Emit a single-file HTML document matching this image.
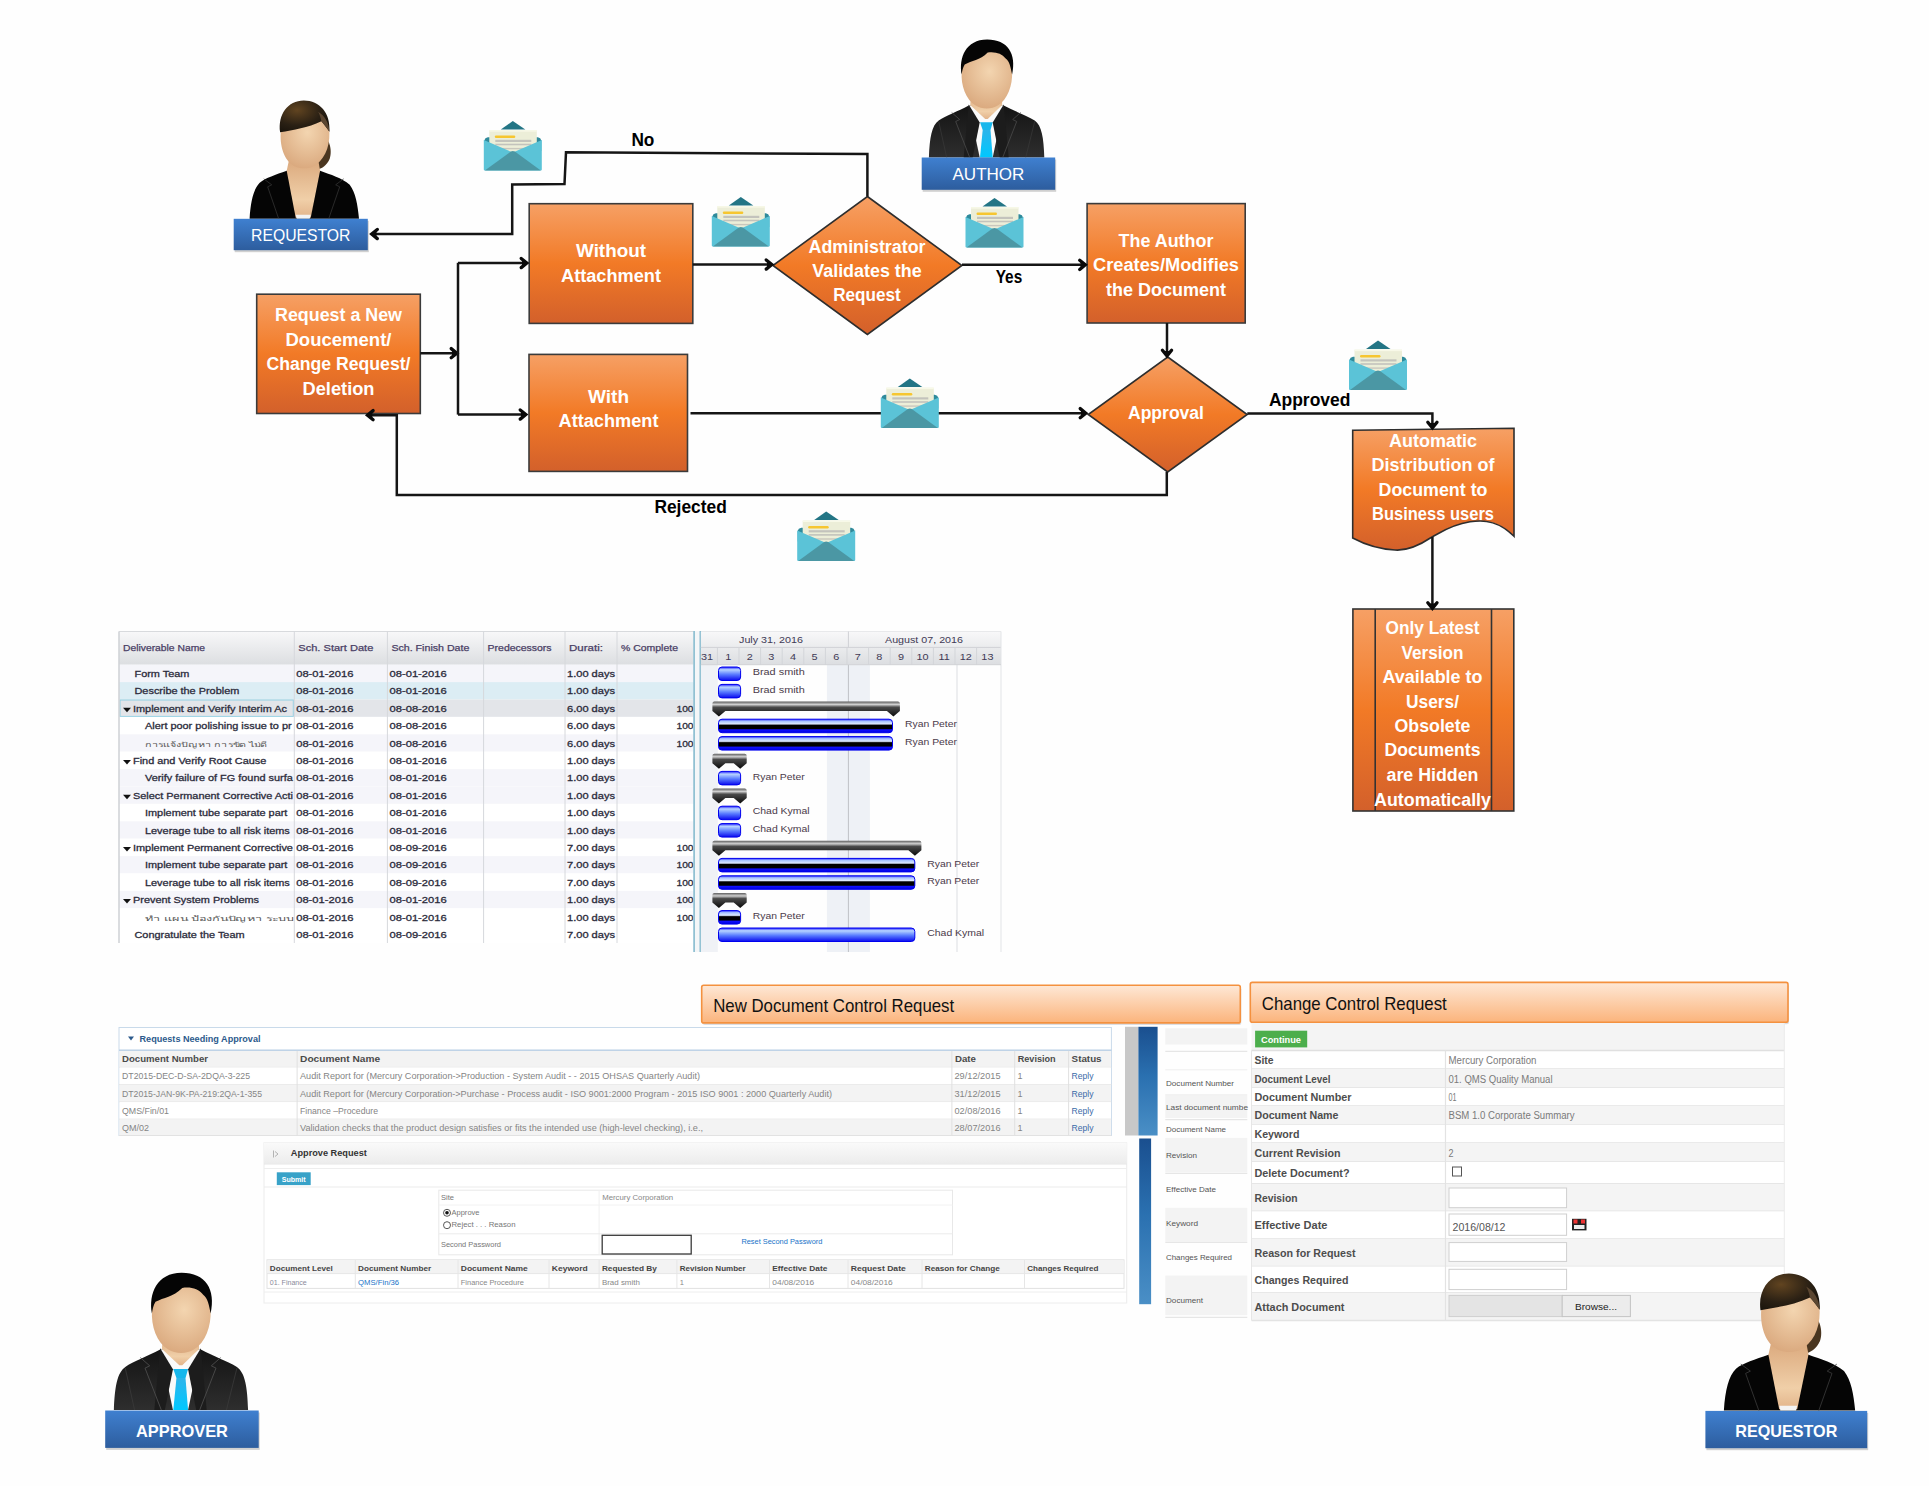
<!DOCTYPE html><html><head><meta charset="utf-8"><style>html,body{margin:0;padding:0;background:#fff;overflow:hidden}svg{display:block}text{font-family:"Liberation Sans",sans-serif}</style></head><body>
<svg width="1929" height="1486" viewBox="0 0 1929 1486">

<defs>
 <linearGradient id="og" x1="0" y1="0" x2="0" y2="1">
  <stop offset="0" stop-color="#f6a065"/>
  <stop offset="0.5" stop-color="#f27a26"/>
  <stop offset="1" stop-color="#d3602b"/>
 </linearGradient>
 <linearGradient id="bg" x1="0" y1="0" x2="0" y2="1">
  <stop offset="0" stop-color="#3f80d0"/>
  <stop offset="1" stop-color="#2d5d9e"/>
 </linearGradient>
 <linearGradient id="hdrg" x1="0" y1="0" x2="0" y2="1">
  <stop offset="0" stop-color="#fee8d6"/>
  <stop offset="1" stop-color="#fbb47c"/>
 </linearGradient>
 <linearGradient id="gh" x1="0" y1="0" x2="0" y2="1">
  <stop offset="0" stop-color="#f8f8f9"/>
  <stop offset="1" stop-color="#dcdee1"/>
 </linearGradient>
 <linearGradient id="ph" x1="0" y1="0" x2="0" y2="1">
  <stop offset="0" stop-color="#fafafa"/>
  <stop offset="1" stop-color="#ececec"/>
 </linearGradient>
 <linearGradient id="bbar" x1="0" y1="0" x2="0" y2="1">
  <stop offset="0" stop-color="#1a4f8f"/>
  <stop offset="0.45" stop-color="#2a70b0"/>
  <stop offset="1" stop-color="#4a8fc6"/>
 </linearGradient>
 <linearGradient id="taskg" x1="0" y1="0" x2="0" y2="1">
  <stop offset="0" stop-color="#2020ff"/>
  <stop offset="0.2" stop-color="#b8d4ff"/>
  <stop offset="0.55" stop-color="#5a7cff"/>
  <stop offset="1" stop-color="#0a0aee"/>
 </linearGradient>
 <linearGradient id="doneg" x1="0" y1="0" x2="0" y2="1">
  <stop offset="0" stop-color="#3030ff"/>
  <stop offset="0.15" stop-color="#a8c4ff"/>
  <stop offset="0.35" stop-color="#dde9ff"/>
  <stop offset="0.45" stop-color="#000000"/>
  <stop offset="0.7" stop-color="#000000"/>
  <stop offset="0.78" stop-color="#1010ff"/>
  <stop offset="1" stop-color="#0000dd"/>
 </linearGradient>
 <linearGradient id="sumg" x1="0" y1="0" x2="0" y2="1">
  <stop offset="0" stop-color="#5a5a5a"/>
  <stop offset="0.2" stop-color="#cfcfcf"/>
  <stop offset="0.38" stop-color="#4a4a4a"/>
  <stop offset="1" stop-color="#0a0a0a"/>
 </linearGradient>
 <radialGradient id="skin" cx="0.55" cy="0.35" r="0.7">
  <stop offset="0" stop-color="#f3d5b0"/>
  <stop offset="1" stop-color="#d9a77c"/>
 </radialGradient>
 <linearGradient id="neck" x1="0" y1="0" x2="0" y2="1">
  <stop offset="0" stop-color="#d9a67a"/>
  <stop offset="0.7" stop-color="#f0cfa8"/>
  <stop offset="1" stop-color="#e2b48a"/>
 </linearGradient>
 <linearGradient id="suit" x1="0" y1="0" x2="0" y2="1">
  <stop offset="0" stop-color="#141414"/>
  <stop offset="1" stop-color="#2e2e2e"/>
 </linearGradient>
 <radialGradient id="hairw" cx="0.35" cy="0.3" r="0.8">
  <stop offset="0" stop-color="#614420"/>
  <stop offset="0.6" stop-color="#2a2014"/>
  <stop offset="1" stop-color="#17120b"/>
 </radialGradient>
 <linearGradient id="tie" x1="0" y1="0" x2="0" y2="1">
  <stop offset="0" stop-color="#2eb4ea"/>
  <stop offset="1" stop-color="#00c8ff"/>
 </linearGradient>

 <symbol id="env" viewBox="0 0 58 50" overflow="visible">
  <path d="M17 8.6 L29 0 L41.5 8.6 Z" fill="#237585"/>
  <path d="M0.5 19.5 Q1 16.8 4 16.3 L54 16.3 Q57 16.8 57.5 19.5 L57.5 30 L0.5 30 Z" fill="#2f8a9b"/>
  <rect x="5.5" y="9.2" width="47.5" height="24" fill="#eceed8"/>
  <rect x="5.5" y="9.2" width="47.5" height="1.4" fill="#f8f9e8"/>
  <rect x="11" y="14.6" width="20.5" height="2.4" rx="1.2" fill="#f6c630"/>
  <rect x="11.5" y="18.8" width="36" height="2.2" fill="#c3c3bc"/>
  <rect x="11.5" y="22.7" width="36" height="1.6" fill="#c3c3bc"/>
  <rect x="11.5" y="26.9" width="36" height="1.4" fill="#c9c7bd"/>
  <path d="M0 19 L29 31.5 L58 19 L58 48.5 Q58 49.5 57 49.5 L1 49.5 Q0 49.5 0 48.5 Z" fill="#5bc3d7"/>
  <path d="M1 49.5 L27 30.6 Q29 29.4 31 30.6 L57 49.5 Z" fill="#4b97a4"/>
 </symbol>

 <symbol id="man" viewBox="0 -120 130 120" overflow="visible">
  <path d="M7.2 0 C8 -20 10 -32 17 -37 C24 -42 36 -46 47 -52 L82 -52 C93 -46 105 -42 113 -37 C120 -32 122 -20 122.6 0 Z" fill="url(#suit)"/>
  <path d="M47 -52 L82 -52 L71 0 L58 0 Z" fill="#fafafa"/>
  <path d="M49.5 -64 L80 -64 L80.5 -52.5 L66 -38.5 L63.5 -38.5 L48.5 -52.5 Z" fill="url(#neck)"/>
  <path d="M47 -53 L58 -35 L51 0 L42 0 Z" fill="#1c1c1c"/>
  <path d="M82 -53 L71 -35 L78 0 L87 0 Z" fill="#1c1c1c"/>
  <path d="M58.3 -35.3 L71 -35.3 L68.8 -27.6 L61 -27.6 Z" fill="#17b7ec"/>
  <path d="M61 -27.6 L68.8 -27.6 L71 0 L58.3 0 Z" fill="url(#tie)"/>
  <path d="M30 -45 L38 -38 L34 -36 L48 0" fill="none" stroke="#4a4a4a" stroke-width="0.8"/>
  <path d="M99 -45 L91 -38 L95 -36 L81 0" fill="none" stroke="#4a4a4a" stroke-width="0.8"/>
  <path d="M17 -36 L25 0 M113 -36 L104 0" fill="none" stroke="#3a3a3a" stroke-width="0.7"/>
  <path d="M40 -86 C39 -72 44 -58 54 -52 C60 -48 70 -48 76 -52 C86 -58 91 -72 90.4 -86 C90 -100 82 -106 66 -106 C50 -106 41 -100 40 -86 Z" fill="url(#skin)"/>
  <path d="M39.9 -83 C37 -100 44 -118 65.5 -118.1 C86 -118 95 -104 90.4 -83 C89 -90 88 -96 84 -99 C80 -104 74 -106 66 -105 C58 -97 50 -97 43 -93 C41 -90 40.5 -86 39.9 -83 Z" fill="#050505"/>
 </symbol>

 <symbol id="woman" viewBox="0 -120 140 120" overflow="visible">
  <path d="M86 -84 C96 -83 99 -68 96 -60 C93 -53 88 -50 83 -49 C85 -58 86 -72 86 -84 Z" fill="#4a3620"/>
  <path d="M15.9 0 C17 -18 20 -30 26 -36 C32 -41 42 -44 53 -48 L86.4 -48 C97 -44 108 -41 116 -34 C122 -26 124 -14 125.3 0 Z" fill="#050505"/>
  <path d="M56 -62 L84 -62 L86.4 -48 L77 -1 L62 -1 L53 -48 Z" fill="url(#neck)"/>
  <path d="M62 -4 L77 -4 L76 0 L63 0 Z" fill="#f4f4f4"/>
  <path d="M30 -40 L38 -34 L34 -32 L45 0 M110 -40 L102 -34 L106 -32 L95 0" fill="none" stroke="#3a3a3a" stroke-width="0.7"/>
  <path d="M47 -86 C46 -70 52 -56 62 -52 C67 -50 74 -50 79 -52 C90 -58 96 -70 95.7 -86 C95 -100 88 -106 71 -106 C54 -106 47 -100 47 -86 Z" fill="url(#skin)"/>
  <path d="M46.4 -86.5 C44 -104 54 -118.2 70.1 -118.2 C86 -118 97 -106 95.7 -87 C93 -91 90 -95 87.7 -97.6 C74 -91 60 -89 46.4 -86.5 Z" fill="url(#hairw)"/>
  <path d="M84.5 -107 C91 -103 95.5 -96 95.7 -87 C93 -91 90 -95 87.7 -97.6 C87 -101 86 -104 84.5 -107 Z" fill="#5b4631"/>
 </symbol>
</defs>

<rect x="0" y="0" width="1929" height="1486" fill="#fefefe"/>
<rect x="256.7" y="294.2" width="163.60000000000002" height="119.30000000000001" fill="url(#og)" stroke="#3b3b3b" stroke-width="1.6"/>
<text x="338.5" y="320.5" font-size="18" fill="#ffffff" font-weight="bold" text-anchor="middle" textLength="127" lengthAdjust="spacingAndGlyphs">Request a New</text>
<text x="338.5" y="345.5" font-size="18" fill="#ffffff" font-weight="bold" text-anchor="middle" textLength="106" lengthAdjust="spacingAndGlyphs">Doucement/</text>
<text x="338.5" y="370" font-size="18" fill="#ffffff" font-weight="bold" text-anchor="middle" textLength="144" lengthAdjust="spacingAndGlyphs">Change Request/</text>
<text x="338.5" y="394.5" font-size="18" fill="#ffffff" font-weight="bold" text-anchor="middle" textLength="72" lengthAdjust="spacingAndGlyphs">Deletion</text>
<rect x="529.2" y="203.7" width="163.5999999999999" height="119.69999999999999" fill="url(#og)" stroke="#3b3b3b" stroke-width="1.6"/>
<text x="611" y="256.5" font-size="18" fill="#ffffff" font-weight="bold" text-anchor="middle" textLength="70" lengthAdjust="spacingAndGlyphs">Without</text>
<text x="611" y="281.7" font-size="18" fill="#ffffff" font-weight="bold" text-anchor="middle" textLength="100" lengthAdjust="spacingAndGlyphs">Attachment</text>
<rect x="529" y="354.4" width="158.5" height="117.0" fill="url(#og)" stroke="#3b3b3b" stroke-width="1.6"/>
<text x="608.5" y="402.5" font-size="18" fill="#ffffff" font-weight="bold" text-anchor="middle" textLength="41" lengthAdjust="spacingAndGlyphs">With</text>
<text x="608.5" y="427.2" font-size="18" fill="#ffffff" font-weight="bold" text-anchor="middle" textLength="100" lengthAdjust="spacingAndGlyphs">Attachment</text>
<rect x="1087.1" y="203.6" width="158.10000000000014" height="119.4" fill="url(#og)" stroke="#3b3b3b" stroke-width="1.6"/>
<text x="1166" y="246.7" font-size="18" fill="#ffffff" font-weight="bold" text-anchor="middle" textLength="95" lengthAdjust="spacingAndGlyphs">The Author</text>
<text x="1166" y="271.3" font-size="18" fill="#ffffff" font-weight="bold" text-anchor="middle" textLength="146" lengthAdjust="spacingAndGlyphs">Creates/Modifies</text>
<text x="1166" y="296.4" font-size="18" fill="#ffffff" font-weight="bold" text-anchor="middle" textLength="120" lengthAdjust="spacingAndGlyphs">the Document</text>
<path d="M867.4 196.5 L961.9 265.5 L867.4 334.5 L772.9 265.5 Z" fill="url(#og)" stroke="#2e2e2e" stroke-width="1.6"/>
<text x="867" y="253" font-size="18" fill="#ffffff" font-weight="bold" text-anchor="middle" textLength="117" lengthAdjust="spacingAndGlyphs">Administrator</text>
<text x="867" y="277.2" font-size="18" fill="#ffffff" font-weight="bold" text-anchor="middle" textLength="109.5" lengthAdjust="spacingAndGlyphs">Validates the</text>
<text x="867" y="301" font-size="18" fill="#ffffff" font-weight="bold" text-anchor="middle" textLength="67.5" lengthAdjust="spacingAndGlyphs">Request</text>
<path d="M1167.7 357.0 L1247.2 414.5 L1167.7 472.0 L1088.2 414.5 Z" fill="url(#og)" stroke="#2e2e2e" stroke-width="1.6"/>
<text x="1166" y="419.4" font-size="18" fill="#ffffff" font-weight="bold" text-anchor="middle" textLength="76" lengthAdjust="spacingAndGlyphs">Approval</text>
<path d="M1352.7 430.3 L1514 428.3 L1514 536.3 C1500 522 1486 519 1470 521.8 C1450 525 1440 533 1432 537 C1420 545 1408 551 1395 550 C1378 549 1362 543 1352.7 538 Z" fill="url(#og)" stroke="#2e2e2e" stroke-width="1.6"/>
<text x="1433" y="446.7" font-size="18" fill="#ffffff" font-weight="bold" text-anchor="middle" textLength="88" lengthAdjust="spacingAndGlyphs">Automatic</text>
<text x="1433" y="471.3" font-size="18" fill="#ffffff" font-weight="bold" text-anchor="middle" textLength="123" lengthAdjust="spacingAndGlyphs">Distribution of</text>
<text x="1433" y="495.6" font-size="18" fill="#ffffff" font-weight="bold" text-anchor="middle" textLength="109" lengthAdjust="spacingAndGlyphs">Document to</text>
<text x="1433" y="519.8" font-size="18" fill="#ffffff" font-weight="bold" text-anchor="middle" textLength="122" lengthAdjust="spacingAndGlyphs">Business users</text>
<rect x="1352.9" y="609" width="160.9" height="202" fill="url(#og)" stroke="#333" stroke-width="1.6"/>
<line x1="1375.2" y1="609" x2="1375.2" y2="811" stroke="#333" stroke-width="1.6"/>
<line x1="1491.5" y1="609" x2="1491.5" y2="811" stroke="#333" stroke-width="1.6"/>
<text x="1432.5" y="634" font-size="18" fill="#ffffff" font-weight="bold" text-anchor="middle" textLength="94" lengthAdjust="spacingAndGlyphs">Only Latest</text>
<text x="1432.5" y="659" font-size="18" fill="#ffffff" font-weight="bold" text-anchor="middle" textLength="62" lengthAdjust="spacingAndGlyphs">Version</text>
<text x="1432.5" y="682.9" font-size="18" fill="#ffffff" font-weight="bold" text-anchor="middle" textLength="100" lengthAdjust="spacingAndGlyphs">Available to</text>
<text x="1432.5" y="708" font-size="18" fill="#ffffff" font-weight="bold" text-anchor="middle" textLength="53" lengthAdjust="spacingAndGlyphs">Users/</text>
<text x="1432.5" y="732.2" font-size="18" fill="#ffffff" font-weight="bold" text-anchor="middle" textLength="76" lengthAdjust="spacingAndGlyphs">Obsolete</text>
<text x="1432.5" y="756.4" font-size="18" fill="#ffffff" font-weight="bold" text-anchor="middle" textLength="96" lengthAdjust="spacingAndGlyphs">Documents</text>
<text x="1432.5" y="781.4" font-size="18" fill="#ffffff" font-weight="bold" text-anchor="middle" textLength="92" lengthAdjust="spacingAndGlyphs">are Hidden</text>
<text x="1432.5" y="805.7" font-size="18" fill="#ffffff" font-weight="bold" text-anchor="middle" textLength="117" lengthAdjust="spacingAndGlyphs">Automatically</text>
<path d="M420.3 353.2 L455 353.2" fill="none" stroke="#151515" stroke-width="2.5" stroke-linejoin="miter"/>
<path d="M451.2 348.59999999999997 L456.8 353.2 L451.2 357.8" fill="none" stroke="#0a0a0a" stroke-width="3.3" stroke-linejoin="miter" stroke-linecap="round"/>
<path d="M458 353.2 L452 350.2 L452 356.2 Z" fill="#0a0a0a"/>
<path d="M458 262.8 L458 414.6" fill="none" stroke="#151515" stroke-width="2.5" stroke-linejoin="miter"/>
<path d="M458 263 L524 263" fill="none" stroke="#151515" stroke-width="2.5" stroke-linejoin="miter"/>
<path d="M521.2 258.4 L526.8 263 L521.2 267.6" fill="none" stroke="#0a0a0a" stroke-width="3.3" stroke-linejoin="miter" stroke-linecap="round"/>
<path d="M528 263 L522 260 L522 266 Z" fill="#0a0a0a"/>
<path d="M458 414.5 L522 414.5" fill="none" stroke="#151515" stroke-width="2.5" stroke-linejoin="miter"/>
<path d="M520.2 409.9 L525.8 414.5 L520.2 419.1" fill="none" stroke="#0a0a0a" stroke-width="3.3" stroke-linejoin="miter" stroke-linecap="round"/>
<path d="M527 414.5 L521 411.5 L521 417.5 Z" fill="#0a0a0a"/>
<path d="M692.8 264.4 L768 264.4" fill="none" stroke="#151515" stroke-width="2.5" stroke-linejoin="miter"/>
<path d="M766.2 259.9 L771.8 264.5 L766.2 269.1" fill="none" stroke="#0a0a0a" stroke-width="3.3" stroke-linejoin="miter" stroke-linecap="round"/>
<path d="M773 264.5 L767 261.5 L767 267.5 Z" fill="#0a0a0a"/>
<path d="M867.4 196.5 L867.4 154 L566 152.3 L564.5 184 L512.2 184.5 L512.2 234 L375 234" fill="none" stroke="#151515" stroke-width="2.5" stroke-linejoin="miter"/>
<path d="M377.3 229.4 L371.7 234 L377.3 238.6" fill="none" stroke="#0a0a0a" stroke-width="3.3" stroke-linejoin="miter" stroke-linecap="round"/>
<path d="M370.5 234 L376.5 231 L376.5 237 Z" fill="#0a0a0a"/>
<path d="M962 264.8 L1081 264.8" fill="none" stroke="#151515" stroke-width="2.5" stroke-linejoin="miter"/>
<path d="M1079.7 260.2 L1085.3 264.8 L1079.7 269.40000000000003" fill="none" stroke="#0a0a0a" stroke-width="3.3" stroke-linejoin="miter" stroke-linecap="round"/>
<path d="M1086.5 264.8 L1080.5 261.8 L1080.5 267.8 Z" fill="#0a0a0a"/>
<path d="M1167 323 L1167 352" fill="none" stroke="#151515" stroke-width="2.5" stroke-linejoin="miter"/>
<path d="M1162.4 350.2 L1167 355.8 L1171.6 350.2" fill="none" stroke="#0a0a0a" stroke-width="3.3" stroke-linejoin="miter" stroke-linecap="round"/>
<path d="M1167 357 L1164 351 L1170 351 Z" fill="#0a0a0a"/>
<path d="M690.5 413.2 L1082 413.2" fill="none" stroke="#151515" stroke-width="2.5" stroke-linejoin="miter"/>
<path d="M1080.2 408.59999999999997 L1085.8 413.2 L1080.2 417.8" fill="none" stroke="#0a0a0a" stroke-width="3.3" stroke-linejoin="miter" stroke-linecap="round"/>
<path d="M1087 413.2 L1081 410.2 L1081 416.2 Z" fill="#0a0a0a"/>
<path d="M1166.8 472 L1166.8 495 L396.8 495 L396.8 415.2 L371 415.2" fill="none" stroke="#151515" stroke-width="2.5" stroke-linejoin="miter"/>
<path d="M373.1 410.59999999999997 L367.5 415.2 L373.1 419.8" fill="none" stroke="#0a0a0a" stroke-width="3.3" stroke-linejoin="miter" stroke-linecap="round"/>
<path d="M366.3 415.2 L372.3 412.2 L372.3 418.2 Z" fill="#0a0a0a"/>
<path d="M1247.3 413.4 L1432.4 413.4 L1432.4 424" fill="none" stroke="#151515" stroke-width="2.5" stroke-linejoin="miter"/>
<path d="M1427.8000000000002 422.2 L1432.4 427.8 L1437.0 422.2" fill="none" stroke="#0a0a0a" stroke-width="3.3" stroke-linejoin="miter" stroke-linecap="round"/>
<path d="M1432.4 429 L1429.4 423 L1435.4 423 Z" fill="#0a0a0a"/>
<path d="M1432.4 537 L1432.4 604" fill="none" stroke="#151515" stroke-width="2.5" stroke-linejoin="miter"/>
<path d="M1427.8000000000002 602.7 L1432.4 608.3 L1437.0 602.7" fill="none" stroke="#0a0a0a" stroke-width="3.3" stroke-linejoin="miter" stroke-linecap="round"/>
<path d="M1432.4 609.5 L1429.4 603.5 L1435.4 603.5 Z" fill="#0a0a0a"/>
<text x="631.4" y="146.4" font-size="18" fill="#000" font-weight="bold" textLength="23" lengthAdjust="spacingAndGlyphs">No</text>
<text x="995.7" y="283.4" font-size="18" fill="#000" font-weight="bold" textLength="26.5" lengthAdjust="spacingAndGlyphs">Yes</text>
<text x="654.4" y="512.9" font-size="18" fill="#000" font-weight="bold" textLength="72.5" lengthAdjust="spacingAndGlyphs">Rejected</text>
<text x="1268.9" y="405.7" font-size="18" fill="#000" font-weight="bold" textLength="81.5" lengthAdjust="spacingAndGlyphs">Approved</text>
<use href="#env" x="483.8" y="121" width="58" height="50"/>
<use href="#env" x="711.8" y="197" width="58" height="50"/>
<use href="#env" x="965.5" y="198" width="58" height="50"/>
<use href="#env" x="880.8" y="378.5" width="58" height="50"/>
<use href="#env" x="797.2" y="511.4" width="58" height="50"/>
<use href="#env" x="1349" y="340.5" width="58" height="50"/>
<rect x="119" y="631.5" width="574.7" height="33.200000000000045" fill="url(#gh)"/>
<line x1="119" y1="631.5" x2="1001" y2="631.5" stroke="#d8dadd" stroke-width="1"/>
<text x="123" y="651.4" font-size="9" fill="#4a3f66" textLength="82" lengthAdjust="spacingAndGlyphs" stroke="#4a3f66" stroke-width="0.25">Deliverable Name</text>
<text x="298.3" y="651.4" font-size="9" fill="#4a3f66" textLength="75" lengthAdjust="spacingAndGlyphs" stroke="#4a3f66" stroke-width="0.25">Sch. Start Date</text>
<text x="391.4" y="651.4" font-size="9" fill="#4a3f66" textLength="78" lengthAdjust="spacingAndGlyphs" stroke="#4a3f66" stroke-width="0.25">Sch. Finish Date</text>
<text x="487.6" y="651.4" font-size="9" fill="#4a3f66" textLength="64" lengthAdjust="spacingAndGlyphs" stroke="#4a3f66" stroke-width="0.25">Predecessors</text>
<text x="569" y="651.4" font-size="9" fill="#4a3f66" textLength="34" lengthAdjust="spacingAndGlyphs" stroke="#4a3f66" stroke-width="0.25">Durati:</text>
<text x="621" y="651.4" font-size="9" fill="#4a3f66" textLength="57" lengthAdjust="spacingAndGlyphs" stroke="#4a3f66" stroke-width="0.25">% Complete</text>
<rect x="119" y="664.7" width="574.7" height="17.4" fill="#f5f5fa"/>
<text x="134.5" y="676.9000000000001" font-size="8.6" fill="#2c2c3c" textLength="54.91" lengthAdjust="spacingAndGlyphs" stroke="#2c2c3c" stroke-width="0.28">Form Team</text>
<text x="296.2" y="676.9000000000001" font-size="8.6" fill="#2c2c3c" textLength="57.2" lengthAdjust="spacingAndGlyphs" stroke="#2c2c3c" stroke-width="0.28">08-01-2016</text>
<text x="389.5" y="676.9000000000001" font-size="8.6" fill="#2c2c3c" textLength="57.2" lengthAdjust="spacingAndGlyphs" stroke="#2c2c3c" stroke-width="0.28">08-01-2016</text>
<text x="567" y="676.9000000000001" font-size="8.6" fill="#2c2c3c" textLength="48" lengthAdjust="spacingAndGlyphs" stroke="#2c2c3c" stroke-width="0.28">1.00 days</text>
<rect x="119" y="682.1" width="574.7" height="17.4" fill="#dcedf4"/>
<text x="134.5" y="694.3000000000001" font-size="8.6" fill="#2c2c3c" textLength="104.8" lengthAdjust="spacingAndGlyphs" stroke="#2c2c3c" stroke-width="0.28">Describe the Problem</text>
<text x="296.2" y="694.3000000000001" font-size="8.6" fill="#2c2c3c" textLength="57.2" lengthAdjust="spacingAndGlyphs" stroke="#2c2c3c" stroke-width="0.28">08-01-2016</text>
<text x="389.5" y="694.3000000000001" font-size="8.6" fill="#2c2c3c" textLength="57.2" lengthAdjust="spacingAndGlyphs" stroke="#2c2c3c" stroke-width="0.28">08-01-2016</text>
<text x="567" y="694.3000000000001" font-size="8.6" fill="#2c2c3c" textLength="48" lengthAdjust="spacingAndGlyphs" stroke="#2c2c3c" stroke-width="0.28">1.00 days</text>
<rect x="119" y="699.5" width="574.7" height="17.4" fill="#e3e5e9"/>
<path d="M123 707.7 L131 707.7 L127 712.2 Z" fill="#111"/>
<rect x="120" y="700.0" width="173.3" height="16.4" fill="none" stroke="#8fd0e4" stroke-width="1"/>
<text x="133" y="711.7" font-size="8.6" fill="#2c2c3c" textLength="153.87" lengthAdjust="spacingAndGlyphs" stroke="#2c2c3c" stroke-width="0.28">Implement and Verify Interim Ac</text>
<text x="296.2" y="711.7" font-size="8.6" fill="#2c2c3c" textLength="57.2" lengthAdjust="spacingAndGlyphs" stroke="#2c2c3c" stroke-width="0.28">08-01-2016</text>
<text x="389.5" y="711.7" font-size="8.6" fill="#2c2c3c" textLength="57.2" lengthAdjust="spacingAndGlyphs" stroke="#2c2c3c" stroke-width="0.28">08-08-2016</text>
<text x="567" y="711.7" font-size="8.6" fill="#2c2c3c" textLength="48" lengthAdjust="spacingAndGlyphs" stroke="#2c2c3c" stroke-width="0.28">6.00 days</text>
<text x="693.5" y="711.7" font-size="8.6" fill="#2c2c3c" text-anchor="end" textLength="17" lengthAdjust="spacingAndGlyphs" stroke="#2c2c3c" stroke-width="0.28">100</text>
<rect x="119" y="716.9000000000001" width="574.7" height="17.4" fill="#ffffff"/>
<text x="145" y="729.1000000000001" font-size="8.6" fill="#2c2c3c" textLength="146.61" lengthAdjust="spacingAndGlyphs" stroke="#2c2c3c" stroke-width="0.28">Alert poor polishing issue to pr</text>
<text x="296.2" y="729.1000000000001" font-size="8.6" fill="#2c2c3c" textLength="57.2" lengthAdjust="spacingAndGlyphs" stroke="#2c2c3c" stroke-width="0.28">08-01-2016</text>
<text x="389.5" y="729.1000000000001" font-size="8.6" fill="#2c2c3c" textLength="57.2" lengthAdjust="spacingAndGlyphs" stroke="#2c2c3c" stroke-width="0.28">08-08-2016</text>
<text x="567" y="729.1000000000001" font-size="8.6" fill="#2c2c3c" textLength="48" lengthAdjust="spacingAndGlyphs" stroke="#2c2c3c" stroke-width="0.28">6.00 days</text>
<text x="693.5" y="729.1000000000001" font-size="8.6" fill="#2c2c3c" text-anchor="end" textLength="17" lengthAdjust="spacingAndGlyphs" stroke="#2c2c3c" stroke-width="0.28">100</text>
<rect x="119" y="734.3000000000001" width="574.7" height="17.4" fill="#f5f5fa"/>
<text x="145" y="746.5000000000001" font-size="6.5" fill="#555" textLength="122" lengthAdjust="spacingAndGlyphs">การแจ้งปัญหา การขัด ไม่ดี</text>
<text x="296.2" y="746.5000000000001" font-size="8.6" fill="#2c2c3c" textLength="57.2" lengthAdjust="spacingAndGlyphs" stroke="#2c2c3c" stroke-width="0.28">08-01-2016</text>
<text x="389.5" y="746.5000000000001" font-size="8.6" fill="#2c2c3c" textLength="57.2" lengthAdjust="spacingAndGlyphs" stroke="#2c2c3c" stroke-width="0.28">08-08-2016</text>
<text x="567" y="746.5000000000001" font-size="8.6" fill="#2c2c3c" textLength="48" lengthAdjust="spacingAndGlyphs" stroke="#2c2c3c" stroke-width="0.28">6.00 days</text>
<text x="693.5" y="746.5000000000001" font-size="8.6" fill="#2c2c3c" text-anchor="end" textLength="17" lengthAdjust="spacingAndGlyphs" stroke="#2c2c3c" stroke-width="0.28">100</text>
<rect x="119" y="751.7" width="574.7" height="17.4" fill="#ffffff"/>
<path d="M123 759.9000000000001 L131 759.9000000000001 L127 764.4000000000001 Z" fill="#111"/>
<text x="133" y="763.9000000000001" font-size="8.6" fill="#2c2c3c" textLength="133.29" lengthAdjust="spacingAndGlyphs" stroke="#2c2c3c" stroke-width="0.28">Find and Verify Root Cause</text>
<text x="296.2" y="763.9000000000001" font-size="8.6" fill="#2c2c3c" textLength="57.2" lengthAdjust="spacingAndGlyphs" stroke="#2c2c3c" stroke-width="0.28">08-01-2016</text>
<text x="389.5" y="763.9000000000001" font-size="8.6" fill="#2c2c3c" textLength="57.2" lengthAdjust="spacingAndGlyphs" stroke="#2c2c3c" stroke-width="0.28">08-01-2016</text>
<text x="567" y="763.9000000000001" font-size="8.6" fill="#2c2c3c" textLength="48" lengthAdjust="spacingAndGlyphs" stroke="#2c2c3c" stroke-width="0.28">1.00 days</text>
<rect x="119" y="769.1" width="574.7" height="17.4" fill="#f5f5fa"/>
<text x="145" y="781.3000000000001" font-size="8.6" fill="#2c2c3c" textLength="147.82" lengthAdjust="spacingAndGlyphs" stroke="#2c2c3c" stroke-width="0.28">Verify failure of FG found surfa</text>
<text x="296.2" y="781.3000000000001" font-size="8.6" fill="#2c2c3c" textLength="57.2" lengthAdjust="spacingAndGlyphs" stroke="#2c2c3c" stroke-width="0.28">08-01-2016</text>
<text x="389.5" y="781.3000000000001" font-size="8.6" fill="#2c2c3c" textLength="57.2" lengthAdjust="spacingAndGlyphs" stroke="#2c2c3c" stroke-width="0.28">08-01-2016</text>
<text x="567" y="781.3000000000001" font-size="8.6" fill="#2c2c3c" textLength="48" lengthAdjust="spacingAndGlyphs" stroke="#2c2c3c" stroke-width="0.28">1.00 days</text>
<rect x="119" y="786.5" width="574.7" height="17.4" fill="#f5f5fa"/>
<path d="M123 794.7 L131 794.7 L127 799.2 Z" fill="#111"/>
<text x="133" y="798.7" font-size="8.6" fill="#2c2c3c" textLength="159.93" lengthAdjust="spacingAndGlyphs" stroke="#2c2c3c" stroke-width="0.28">Select Permanent Corrective Acti</text>
<text x="296.2" y="798.7" font-size="8.6" fill="#2c2c3c" textLength="57.2" lengthAdjust="spacingAndGlyphs" stroke="#2c2c3c" stroke-width="0.28">08-01-2016</text>
<text x="389.5" y="798.7" font-size="8.6" fill="#2c2c3c" textLength="57.2" lengthAdjust="spacingAndGlyphs" stroke="#2c2c3c" stroke-width="0.28">08-01-2016</text>
<text x="567" y="798.7" font-size="8.6" fill="#2c2c3c" textLength="48" lengthAdjust="spacingAndGlyphs" stroke="#2c2c3c" stroke-width="0.28">1.00 days</text>
<rect x="119" y="803.9000000000001" width="574.7" height="17.4" fill="#ffffff"/>
<text x="145" y="816.1000000000001" font-size="8.6" fill="#2c2c3c" textLength="142.37" lengthAdjust="spacingAndGlyphs" stroke="#2c2c3c" stroke-width="0.28">Implement tube separate part</text>
<text x="296.2" y="816.1000000000001" font-size="8.6" fill="#2c2c3c" textLength="57.2" lengthAdjust="spacingAndGlyphs" stroke="#2c2c3c" stroke-width="0.28">08-01-2016</text>
<text x="389.5" y="816.1000000000001" font-size="8.6" fill="#2c2c3c" textLength="57.2" lengthAdjust="spacingAndGlyphs" stroke="#2c2c3c" stroke-width="0.28">08-01-2016</text>
<text x="567" y="816.1000000000001" font-size="8.6" fill="#2c2c3c" textLength="48" lengthAdjust="spacingAndGlyphs" stroke="#2c2c3c" stroke-width="0.28">1.00 days</text>
<rect x="119" y="821.3000000000001" width="574.7" height="17.4" fill="#f5f5fa"/>
<text x="145" y="833.5000000000001" font-size="8.6" fill="#2c2c3c" textLength="144.79" lengthAdjust="spacingAndGlyphs" stroke="#2c2c3c" stroke-width="0.28">Leverage tube to all risk items</text>
<text x="296.2" y="833.5000000000001" font-size="8.6" fill="#2c2c3c" textLength="57.2" lengthAdjust="spacingAndGlyphs" stroke="#2c2c3c" stroke-width="0.28">08-01-2016</text>
<text x="389.5" y="833.5000000000001" font-size="8.6" fill="#2c2c3c" textLength="57.2" lengthAdjust="spacingAndGlyphs" stroke="#2c2c3c" stroke-width="0.28">08-01-2016</text>
<text x="567" y="833.5000000000001" font-size="8.6" fill="#2c2c3c" textLength="48" lengthAdjust="spacingAndGlyphs" stroke="#2c2c3c" stroke-width="0.28">1.00 days</text>
<rect x="119" y="838.7" width="574.7" height="17.4" fill="#ffffff"/>
<path d="M123 846.9000000000001 L131 846.9000000000001 L127 851.4000000000001 Z" fill="#111"/>
<text x="133" y="850.9000000000001" font-size="8.6" fill="#2c2c3c" textLength="159.92" lengthAdjust="spacingAndGlyphs" stroke="#2c2c3c" stroke-width="0.28">Implement Permanent Corrective</text>
<text x="296.2" y="850.9000000000001" font-size="8.6" fill="#2c2c3c" textLength="57.2" lengthAdjust="spacingAndGlyphs" stroke="#2c2c3c" stroke-width="0.28">08-01-2016</text>
<text x="389.5" y="850.9000000000001" font-size="8.6" fill="#2c2c3c" textLength="57.2" lengthAdjust="spacingAndGlyphs" stroke="#2c2c3c" stroke-width="0.28">08-09-2016</text>
<text x="567" y="850.9000000000001" font-size="8.6" fill="#2c2c3c" textLength="48" lengthAdjust="spacingAndGlyphs" stroke="#2c2c3c" stroke-width="0.28">7.00 days</text>
<text x="693.5" y="850.9000000000001" font-size="8.6" fill="#2c2c3c" text-anchor="end" textLength="17" lengthAdjust="spacingAndGlyphs" stroke="#2c2c3c" stroke-width="0.28">100</text>
<rect x="119" y="856.1" width="574.7" height="17.4" fill="#f5f5fa"/>
<text x="145" y="868.3000000000001" font-size="8.6" fill="#2c2c3c" textLength="142.37" lengthAdjust="spacingAndGlyphs" stroke="#2c2c3c" stroke-width="0.28">Implement tube separate part</text>
<text x="296.2" y="868.3000000000001" font-size="8.6" fill="#2c2c3c" textLength="57.2" lengthAdjust="spacingAndGlyphs" stroke="#2c2c3c" stroke-width="0.28">08-01-2016</text>
<text x="389.5" y="868.3000000000001" font-size="8.6" fill="#2c2c3c" textLength="57.2" lengthAdjust="spacingAndGlyphs" stroke="#2c2c3c" stroke-width="0.28">08-09-2016</text>
<text x="567" y="868.3000000000001" font-size="8.6" fill="#2c2c3c" textLength="48" lengthAdjust="spacingAndGlyphs" stroke="#2c2c3c" stroke-width="0.28">7.00 days</text>
<text x="693.5" y="868.3000000000001" font-size="8.6" fill="#2c2c3c" text-anchor="end" textLength="17" lengthAdjust="spacingAndGlyphs" stroke="#2c2c3c" stroke-width="0.28">100</text>
<rect x="119" y="873.5" width="574.7" height="17.4" fill="#ffffff"/>
<text x="145" y="885.7" font-size="8.6" fill="#2c2c3c" textLength="144.79" lengthAdjust="spacingAndGlyphs" stroke="#2c2c3c" stroke-width="0.28">Leverage tube to all risk items</text>
<text x="296.2" y="885.7" font-size="8.6" fill="#2c2c3c" textLength="57.2" lengthAdjust="spacingAndGlyphs" stroke="#2c2c3c" stroke-width="0.28">08-01-2016</text>
<text x="389.5" y="885.7" font-size="8.6" fill="#2c2c3c" textLength="57.2" lengthAdjust="spacingAndGlyphs" stroke="#2c2c3c" stroke-width="0.28">08-09-2016</text>
<text x="567" y="885.7" font-size="8.6" fill="#2c2c3c" textLength="48" lengthAdjust="spacingAndGlyphs" stroke="#2c2c3c" stroke-width="0.28">7.00 days</text>
<text x="693.5" y="885.7" font-size="8.6" fill="#2c2c3c" text-anchor="end" textLength="17" lengthAdjust="spacingAndGlyphs" stroke="#2c2c3c" stroke-width="0.28">100</text>
<rect x="119" y="890.9000000000001" width="574.7" height="17.4" fill="#f5f5fa"/>
<path d="M123 899.1000000000001 L131 899.1000000000001 L127 903.6000000000001 Z" fill="#111"/>
<text x="133" y="903.1000000000001" font-size="8.6" fill="#2c2c3c" textLength="125.99" lengthAdjust="spacingAndGlyphs" stroke="#2c2c3c" stroke-width="0.28">Prevent System Problems</text>
<text x="296.2" y="903.1000000000001" font-size="8.6" fill="#2c2c3c" textLength="57.2" lengthAdjust="spacingAndGlyphs" stroke="#2c2c3c" stroke-width="0.28">08-01-2016</text>
<text x="389.5" y="903.1000000000001" font-size="8.6" fill="#2c2c3c" textLength="57.2" lengthAdjust="spacingAndGlyphs" stroke="#2c2c3c" stroke-width="0.28">08-01-2016</text>
<text x="567" y="903.1000000000001" font-size="8.6" fill="#2c2c3c" textLength="48" lengthAdjust="spacingAndGlyphs" stroke="#2c2c3c" stroke-width="0.28">1.00 days</text>
<text x="693.5" y="903.1000000000001" font-size="8.6" fill="#2c2c3c" text-anchor="end" textLength="17" lengthAdjust="spacingAndGlyphs" stroke="#2c2c3c" stroke-width="0.28">100</text>
<rect x="119" y="908.3" width="574.7" height="17.4" fill="#ffffff"/>
<text x="145" y="920.5" font-size="6.5" fill="#555" textLength="148.3" lengthAdjust="spacingAndGlyphs">ทำ แผน ป้องกันปัญหา ระบบ</text>
<text x="296.2" y="920.5" font-size="8.6" fill="#2c2c3c" textLength="57.2" lengthAdjust="spacingAndGlyphs" stroke="#2c2c3c" stroke-width="0.28">08-01-2016</text>
<text x="389.5" y="920.5" font-size="8.6" fill="#2c2c3c" textLength="57.2" lengthAdjust="spacingAndGlyphs" stroke="#2c2c3c" stroke-width="0.28">08-01-2016</text>
<text x="567" y="920.5" font-size="8.6" fill="#2c2c3c" textLength="48" lengthAdjust="spacingAndGlyphs" stroke="#2c2c3c" stroke-width="0.28">1.00 days</text>
<text x="693.5" y="920.5" font-size="8.6" fill="#2c2c3c" text-anchor="end" textLength="17" lengthAdjust="spacingAndGlyphs" stroke="#2c2c3c" stroke-width="0.28">100</text>
<rect x="119" y="925.7" width="574.7" height="17.4" fill="#ffffff"/>
<text x="134.5" y="937.9000000000001" font-size="8.6" fill="#2c2c3c" textLength="110.07" lengthAdjust="spacingAndGlyphs" stroke="#2c2c3c" stroke-width="0.28">Congratulate the Team</text>
<text x="296.2" y="937.9000000000001" font-size="8.6" fill="#2c2c3c" textLength="57.2" lengthAdjust="spacingAndGlyphs" stroke="#2c2c3c" stroke-width="0.28">08-01-2016</text>
<text x="389.5" y="937.9000000000001" font-size="8.6" fill="#2c2c3c" textLength="57.2" lengthAdjust="spacingAndGlyphs" stroke="#2c2c3c" stroke-width="0.28">08-09-2016</text>
<text x="567" y="937.9000000000001" font-size="8.6" fill="#2c2c3c" textLength="48" lengthAdjust="spacingAndGlyphs" stroke="#2c2c3c" stroke-width="0.28">7.00 days</text>
<line x1="119" y1="631.5" x2="119" y2="943" stroke="#d6d8dc" stroke-width="1"/>
<line x1="294.3" y1="631.5" x2="294.3" y2="943" stroke="#d6d8dc" stroke-width="1"/>
<line x1="387.4" y1="631.5" x2="387.4" y2="943" stroke="#d6d8dc" stroke-width="1"/>
<line x1="483.6" y1="631.5" x2="483.6" y2="943" stroke="#d6d8dc" stroke-width="1"/>
<line x1="565" y1="631.5" x2="565" y2="943" stroke="#d6d8dc" stroke-width="1"/>
<line x1="617" y1="631.5" x2="617" y2="943" stroke="#d6d8dc" stroke-width="1"/>
<line x1="119" y1="631.5" x2="119" y2="943" stroke="#cfd2d6" stroke-width="1.2"/>
<rect x="693.5" y="631" width="7" height="321" fill="#f4f6f8"/>
<line x1="694.1" y1="631" x2="694.1" y2="952" stroke="#7fb7cc" stroke-width="1.5"/>
<line x1="700.3" y1="631" x2="700.3" y2="952" stroke="#7fb7cc" stroke-width="1.5"/>
<rect x="700.8" y="631.5" width="300.20000000000005" height="33.200000000000045" fill="url(#gh)"/>
<line x1="700.8" y1="647.4" x2="1001" y2="647.4" stroke="#d0d2d6" stroke-width="1"/>
<line x1="848.4" y1="631.5" x2="848.4" y2="647.4" stroke="#cfd1d5" stroke-width="1"/>
<text x="771" y="643.4" font-size="8.6" fill="#3f3a55" text-anchor="middle" textLength="64" lengthAdjust="spacingAndGlyphs">July 31, 2016</text>
<text x="924" y="643.4" font-size="8.6" fill="#3f3a55" text-anchor="middle" textLength="78" lengthAdjust="spacingAndGlyphs">August 07, 2016</text>
<text x="707" y="660" font-size="8.6" fill="#3f3a55" text-anchor="middle" textLength="12.12" lengthAdjust="spacingAndGlyphs">31</text>
<line x1="717.4" y1="647.4" x2="717.4" y2="664.7" stroke="#d3d5d9" stroke-width="1"/>
<text x="728.1999999999999" y="660" font-size="8.6" fill="#3f3a55" text-anchor="middle" textLength="6.06" lengthAdjust="spacingAndGlyphs">1</text>
<line x1="739.0" y1="647.4" x2="739.0" y2="664.7" stroke="#d3d5d9" stroke-width="1"/>
<text x="749.8" y="660" font-size="8.6" fill="#3f3a55" text-anchor="middle" textLength="6.06" lengthAdjust="spacingAndGlyphs">2</text>
<line x1="760.5999999999999" y1="647.4" x2="760.5999999999999" y2="664.7" stroke="#d3d5d9" stroke-width="1"/>
<text x="771.3999999999999" y="660" font-size="8.6" fill="#3f3a55" text-anchor="middle" textLength="6.06" lengthAdjust="spacingAndGlyphs">3</text>
<line x1="782.1999999999999" y1="647.4" x2="782.1999999999999" y2="664.7" stroke="#d3d5d9" stroke-width="1"/>
<text x="792.9999999999999" y="660" font-size="8.6" fill="#3f3a55" text-anchor="middle" textLength="6.06" lengthAdjust="spacingAndGlyphs">4</text>
<line x1="803.8" y1="647.4" x2="803.8" y2="664.7" stroke="#d3d5d9" stroke-width="1"/>
<text x="814.5999999999999" y="660" font-size="8.6" fill="#3f3a55" text-anchor="middle" textLength="6.06" lengthAdjust="spacingAndGlyphs">5</text>
<line x1="825.4" y1="647.4" x2="825.4" y2="664.7" stroke="#d3d5d9" stroke-width="1"/>
<text x="836.1999999999999" y="660" font-size="8.6" fill="#3f3a55" text-anchor="middle" textLength="6.06" lengthAdjust="spacingAndGlyphs">6</text>
<line x1="847.0" y1="647.4" x2="847.0" y2="664.7" stroke="#d3d5d9" stroke-width="1"/>
<text x="857.8" y="660" font-size="8.6" fill="#3f3a55" text-anchor="middle" textLength="6.06" lengthAdjust="spacingAndGlyphs">7</text>
<line x1="868.5999999999999" y1="647.4" x2="868.5999999999999" y2="664.7" stroke="#d3d5d9" stroke-width="1"/>
<text x="879.3999999999999" y="660" font-size="8.6" fill="#3f3a55" text-anchor="middle" textLength="6.06" lengthAdjust="spacingAndGlyphs">8</text>
<line x1="890.1999999999999" y1="647.4" x2="890.1999999999999" y2="664.7" stroke="#d3d5d9" stroke-width="1"/>
<text x="900.9999999999999" y="660" font-size="8.6" fill="#3f3a55" text-anchor="middle" textLength="6.06" lengthAdjust="spacingAndGlyphs">9</text>
<line x1="911.8" y1="647.4" x2="911.8" y2="664.7" stroke="#d3d5d9" stroke-width="1"/>
<text x="922.5999999999999" y="660" font-size="8.6" fill="#3f3a55" text-anchor="middle" textLength="12.12" lengthAdjust="spacingAndGlyphs">10</text>
<line x1="933.4" y1="647.4" x2="933.4" y2="664.7" stroke="#d3d5d9" stroke-width="1"/>
<text x="944.1999999999999" y="660" font-size="8.6" fill="#3f3a55" text-anchor="middle" textLength="11.31" lengthAdjust="spacingAndGlyphs">11</text>
<line x1="955.0" y1="647.4" x2="955.0" y2="664.7" stroke="#d3d5d9" stroke-width="1"/>
<text x="965.8" y="660" font-size="8.6" fill="#3f3a55" text-anchor="middle" textLength="12.12" lengthAdjust="spacingAndGlyphs">12</text>
<line x1="976.5999999999999" y1="647.4" x2="976.5999999999999" y2="664.7" stroke="#d3d5d9" stroke-width="1"/>
<text x="987.3999999999999" y="660" font-size="8.6" fill="#3f3a55" text-anchor="middle" textLength="12.12" lengthAdjust="spacingAndGlyphs">13</text>
<line x1="1001" y1="631.5" x2="1001" y2="952" stroke="#e2e4e7" stroke-width="1"/>
<rect x="700.8" y="664.7" width="17" height="287.29999999999995" fill="#f0f2f6"/>
<rect x="826.9" y="664.7" width="43" height="287.29999999999995" fill="#eef1f6"/>
<line x1="848.4" y1="664.7" x2="848.4" y2="952" stroke="#bfc1c6" stroke-width="1"/>
<line x1="957" y1="664.7" x2="957" y2="952" stroke="#dcdee2" stroke-width="1"/>
<line x1="700.8" y1="664.7" x2="1001" y2="664.7" stroke="#d0d2d6" stroke-width="1"/>
<rect x="718.5" y="667.0" width="22.100000000000023" height="13.5" rx="3.5" fill="url(#taskg)" stroke="#0000ee" stroke-width="1"/>
<text x="752.7" y="675.2" font-size="8.6" fill="#4a3a4a" textLength="52" lengthAdjust="spacingAndGlyphs">Brad smith</text>
<rect x="718.5" y="684.4" width="22.100000000000023" height="13.5" rx="3.5" fill="url(#taskg)" stroke="#0000ee" stroke-width="1"/>
<text x="752.7" y="692.6" font-size="8.6" fill="#4a3a4a" textLength="52" lengthAdjust="spacingAndGlyphs">Brad smith</text>
<path d="M712.4 703.5 Q712.4 701.5 714.4 701.5 L897.9 701.5 Q899.9 701.5 899.9 703.5 L899.9 711.0 L893.4 716.5 L886.9 711.0 L725.4 711.0 L718.9 716.5 L712.4 711.0 Z" fill="url(#sumg)"/>
<rect x="718.5" y="719.2" width="174.0" height="13.5" rx="3.5" fill="url(#doneg)" stroke="#0000ee" stroke-width="1"/>
<text x="905" y="727.4000000000001" font-size="8.6" fill="#4a3a4a" textLength="52" lengthAdjust="spacingAndGlyphs">Ryan Peter</text>
<rect x="718.5" y="736.6" width="174.0" height="13.5" rx="3.5" fill="url(#doneg)" stroke="#0000ee" stroke-width="1"/>
<text x="905" y="744.8000000000001" font-size="8.6" fill="#4a3a4a" textLength="52" lengthAdjust="spacingAndGlyphs">Ryan Peter</text>
<path d="M712.4 755.7 Q712.4 753.7 714.4 753.7 L744.7 753.7 Q746.7 753.7 746.7 755.7 L746.7 763.2 L740.2 768.7 L733.7 763.2 L725.4 763.2 L718.9 768.7 L712.4 763.2 Z" fill="url(#sumg)"/>
<rect x="718.5" y="771.4" width="22.100000000000023" height="13.5" rx="3.5" fill="url(#taskg)" stroke="#0000ee" stroke-width="1"/>
<text x="752.7" y="779.6" font-size="8.6" fill="#4a3a4a" textLength="52" lengthAdjust="spacingAndGlyphs">Ryan Peter</text>
<path d="M712.4 790.5 Q712.4 788.5 714.4 788.5 L744.7 788.5 Q746.7 788.5 746.7 790.5 L746.7 798.0 L740.2 803.5 L733.7 798.0 L725.4 798.0 L718.9 803.5 L712.4 798.0 Z" fill="url(#sumg)"/>
<rect x="718.5" y="806.2" width="22.100000000000023" height="13.5" rx="3.5" fill="url(#taskg)" stroke="#0000ee" stroke-width="1"/>
<text x="752.7" y="814.4000000000001" font-size="8.6" fill="#4a3a4a" textLength="57" lengthAdjust="spacingAndGlyphs">Chad Kymal</text>
<rect x="718.5" y="823.6" width="22.100000000000023" height="13.5" rx="3.5" fill="url(#taskg)" stroke="#0000ee" stroke-width="1"/>
<text x="752.7" y="831.8000000000001" font-size="8.6" fill="#4a3a4a" textLength="57" lengthAdjust="spacingAndGlyphs">Chad Kymal</text>
<path d="M712.4 842.7 Q712.4 840.7 714.4 840.7 L919.4 840.7 Q921.4 840.7 921.4 842.7 L921.4 850.2 L914.9 855.7 L908.4 850.2 L725.4 850.2 L718.9 855.7 L712.4 850.2 Z" fill="url(#sumg)"/>
<rect x="718.5" y="858.4" width="196.29999999999995" height="13.5" rx="3.5" fill="url(#doneg)" stroke="#0000ee" stroke-width="1"/>
<text x="927.2" y="866.6" font-size="8.6" fill="#4a3a4a" textLength="52" lengthAdjust="spacingAndGlyphs">Ryan Peter</text>
<rect x="718.5" y="875.8" width="196.29999999999995" height="13.5" rx="3.5" fill="url(#doneg)" stroke="#0000ee" stroke-width="1"/>
<text x="927.2" y="884.0" font-size="8.6" fill="#4a3a4a" textLength="52" lengthAdjust="spacingAndGlyphs">Ryan Peter</text>
<path d="M712.4 894.9000000000001 Q712.4 892.9000000000001 714.4 892.9000000000001 L744.7 892.9000000000001 Q746.7 892.9000000000001 746.7 894.9000000000001 L746.7 902.4000000000001 L740.2 907.9000000000001 L733.7 902.4000000000001 L725.4 902.4000000000001 L718.9 907.9000000000001 L712.4 902.4000000000001 Z" fill="url(#sumg)"/>
<rect x="718.5" y="910.5999999999999" width="22.100000000000023" height="13.5" rx="3.5" fill="url(#doneg)" stroke="#0000ee" stroke-width="1"/>
<text x="752.7" y="918.8" font-size="8.6" fill="#4a3a4a" textLength="52" lengthAdjust="spacingAndGlyphs">Ryan Peter</text>
<rect x="718.5" y="928.0" width="196.29999999999995" height="13.5" rx="3.5" fill="url(#taskg)" stroke="#0000ee" stroke-width="1"/>
<text x="927.2" y="936.2" font-size="8.6" fill="#4a3a4a" textLength="57" lengthAdjust="spacingAndGlyphs">Chad Kymal</text>
<rect x="702.7" y="987.2" width="538.5999999999999" height="37.69999999999993" rx="2" fill="#9aa4b4" opacity="0.35"/>
<rect x="701.7" y="985.2" width="538.5999999999999" height="37.69999999999993" rx="2" fill="url(#hdrg)" stroke="#f4913f" stroke-width="1.6"/>
<text x="713.2" y="1011.7" font-size="19" fill="#111" textLength="241" lengthAdjust="spacingAndGlyphs">New Document Control Request</text>
<rect x="1251.3" y="984.4" width="537.7" height="39.89999999999998" rx="2" fill="#9aa4b4" opacity="0.35"/>
<rect x="1250.3" y="982.4" width="537.7" height="39.89999999999998" rx="2" fill="url(#hdrg)" stroke="#f4913f" stroke-width="1.6"/>
<text x="1261.8" y="1010.1" font-size="19" fill="#111" textLength="185" lengthAdjust="spacingAndGlyphs">Change Control Request</text>
<rect x="119" y="1027.5" width="992.4000000000001" height="108.0" fill="#fff" stroke="#c9daea" stroke-width="1"/>
<line x1="119" y1="1050.2" x2="1111.4" y2="1050.2" stroke="#b9d0e6" stroke-width="1.4"/>
<path d="M128 1036.5 L134 1036.5 L131 1040.5 Z" fill="#2c5a8c"/>
<text x="139.5" y="1041.8" font-size="9" fill="#2c5a8c" font-weight="bold" textLength="121" lengthAdjust="spacingAndGlyphs">Requests Needing Approval</text>
<rect x="119.5" y="1050.9" width="991.4000000000001" height="16.5" fill="#f3f3f3"/>
<line x1="119" y1="1067.4" x2="1111.4" y2="1067.4" stroke="#e2e2e2" stroke-width="1"/>
<rect x="119.5" y="1067.4" width="991.4000000000001" height="17.09999999999991" fill="#ffffff"/>
<line x1="119" y1="1084.5" x2="1111.4" y2="1084.5" stroke="#e2e2e2" stroke-width="1"/>
<rect x="119.5" y="1084.5" width="991.4000000000001" height="17.59999999999991" fill="#f3f3f3"/>
<line x1="119" y1="1102.1" x2="1111.4" y2="1102.1" stroke="#e2e2e2" stroke-width="1"/>
<rect x="119.5" y="1102.1" width="991.4000000000001" height="17.100000000000136" fill="#ffffff"/>
<line x1="119" y1="1119.2" x2="1111.4" y2="1119.2" stroke="#e2e2e2" stroke-width="1"/>
<rect x="119.5" y="1119.2" width="991.4000000000001" height="16.299999999999955" fill="#f3f3f3"/>
<line x1="119" y1="1135.5" x2="1111.4" y2="1135.5" stroke="#e2e2e2" stroke-width="1"/>
<line x1="297.1" y1="1050.9" x2="297.1" y2="1135.5" stroke="#e0e0e0" stroke-width="1"/>
<line x1="951.9" y1="1050.9" x2="951.9" y2="1135.5" stroke="#e0e0e0" stroke-width="1"/>
<line x1="1014.7" y1="1050.9" x2="1014.7" y2="1135.5" stroke="#e0e0e0" stroke-width="1"/>
<line x1="1068.6" y1="1050.9" x2="1068.6" y2="1135.5" stroke="#e0e0e0" stroke-width="1"/>
<text x="122" y="1062.3" font-size="8.2" fill="#4a4a4a" font-weight="bold" textLength="86" lengthAdjust="spacingAndGlyphs">Document Number</text>
<text x="300.1" y="1062.3" font-size="8.2" fill="#4a4a4a" font-weight="bold" textLength="80" lengthAdjust="spacingAndGlyphs">Document Name</text>
<text x="954.9" y="1062.3" font-size="8.2" fill="#4a4a4a" font-weight="bold" textLength="21" lengthAdjust="spacingAndGlyphs">Date</text>
<text x="1017.7" y="1062.3" font-size="8.2" fill="#4a4a4a" font-weight="bold" textLength="38" lengthAdjust="spacingAndGlyphs">Revision</text>
<text x="1071.6" y="1062.3" font-size="8.2" fill="#4a4a4a" font-weight="bold" textLength="30" lengthAdjust="spacingAndGlyphs">Status</text>
<text x="122" y="1079.4" font-size="9" fill="#858585" textLength="128" lengthAdjust="spacingAndGlyphs">DT2015-DEC-D-SA-2DQA-3-225</text>
<text x="300" y="1079.4" font-size="9" fill="#858585" textLength="400" lengthAdjust="spacingAndGlyphs">Audit Report for (Mercury Corporation-&gt;Production - System Audit - - 2015 OHSAS Quarterly Audit)</text>
<text x="954.5" y="1079.4" font-size="9" fill="#858585" textLength="46" lengthAdjust="spacingAndGlyphs">29/12/2015</text>
<text x="1017.5" y="1079.4" font-size="9" fill="#858585">1</text>
<text x="1071.5" y="1079.4" font-size="9" fill="#3a6aa8" textLength="22" lengthAdjust="spacingAndGlyphs">Reply</text>
<text x="122" y="1096.5" font-size="9" fill="#858585" textLength="140" lengthAdjust="spacingAndGlyphs">DT2015-JAN-9K-PA-219:2QA-1-355</text>
<text x="300" y="1096.5" font-size="9" fill="#858585" textLength="532" lengthAdjust="spacingAndGlyphs">Audit Report for (Mercury Corporation-&gt;Purchase - Process audit - ISO 9001:2000 Program - 2015 ISO 9001 : 2000 Quarterly Audit)</text>
<text x="954.5" y="1096.5" font-size="9" fill="#858585" textLength="46" lengthAdjust="spacingAndGlyphs">31/12/2015</text>
<text x="1017.5" y="1096.5" font-size="9" fill="#858585">1</text>
<text x="1071.5" y="1096.5" font-size="9" fill="#3a6aa8" textLength="22" lengthAdjust="spacingAndGlyphs">Reply</text>
<text x="122" y="1114.1" font-size="9" fill="#858585" textLength="47" lengthAdjust="spacingAndGlyphs">QMS/Fin/01</text>
<text x="300" y="1114.1" font-size="9" fill="#858585" textLength="78" lengthAdjust="spacingAndGlyphs">Finance –Procedure</text>
<text x="954.5" y="1114.1" font-size="9" fill="#858585" textLength="46" lengthAdjust="spacingAndGlyphs">02/08/2016</text>
<text x="1017.5" y="1114.1" font-size="9" fill="#858585">1</text>
<text x="1071.5" y="1114.1" font-size="9" fill="#3a6aa8" textLength="22" lengthAdjust="spacingAndGlyphs">Reply</text>
<text x="122" y="1131.2" font-size="9" fill="#858585" textLength="27" lengthAdjust="spacingAndGlyphs">QM/02</text>
<text x="300" y="1131.2" font-size="9" fill="#858585" textLength="403" lengthAdjust="spacingAndGlyphs">Validation checks that the product design satisfies or fits the intended use (high-level checking), i.e.,</text>
<text x="954.5" y="1131.2" font-size="9" fill="#858585" textLength="46" lengthAdjust="spacingAndGlyphs">28/07/2016</text>
<text x="1017.5" y="1131.2" font-size="9" fill="#858585">1</text>
<text x="1071.5" y="1131.2" font-size="9" fill="#3a6aa8" textLength="22" lengthAdjust="spacingAndGlyphs">Reply</text>
<rect x="1125" y="1026.8" width="13.4" height="108.7" fill="#c8c8c8"/>
<rect x="1138.4" y="1026.8" width="19.2" height="108.7" fill="url(#bbar)"/>
<rect x="1139.2" y="1138.5" width="11.9" height="165.7" fill="url(#bbar)"/>
<rect x="1165.3" y="1028.3" width="82.0" height="16.299999999999955" fill="#f3f3f3"/>
<rect x="1165.3" y="1069" width="82.0" height="1.5" fill="#f3f3f3"/>
<rect x="1165.3" y="1096" width="82.0" height="22" fill="#f3f3f3"/>
<rect x="1165.3" y="1137.9" width="82.0" height="34.399999999999864" fill="#f3f3f3"/>
<rect x="1165.3" y="1207.8" width="82.0" height="34.40000000000009" fill="#f3f3f3"/>
<rect x="1165.3" y="1275.6" width="82.0" height="39.600000000000136" fill="#f3f3f3"/>
<line x1="1165.3" y1="1051.3" x2="1247.3" y2="1051.3" stroke="#e6e6e6" stroke-width="1.2"/>
<line x1="1165.3" y1="1095" x2="1247.3" y2="1095" stroke="#e6e6e6" stroke-width="1.2"/>
<line x1="1165.3" y1="1119.7" x2="1247.3" y2="1119.7" stroke="#e6e6e6" stroke-width="1.2"/>
<line x1="1165.3" y1="1173.3" x2="1247.3" y2="1173.3" stroke="#e6e6e6" stroke-width="1.2"/>
<line x1="1165.3" y1="1242.5" x2="1247.3" y2="1242.5" stroke="#e6e6e6" stroke-width="1.2"/>
<line x1="1165.3" y1="1317.3" x2="1247.3" y2="1317.3" stroke="#e6e6e6" stroke-width="1.2"/>
<text x="1166" y="1086.3" font-size="7.5" fill="#555" textLength="68" lengthAdjust="spacingAndGlyphs">Document Number</text>
<text x="1166" y="1110" font-size="7.5" fill="#555" textLength="82" lengthAdjust="spacingAndGlyphs">Last document numbe</text>
<text x="1166" y="1131.6" font-size="7.5" fill="#555" textLength="60" lengthAdjust="spacingAndGlyphs">Document Name</text>
<text x="1166" y="1157.7" font-size="7.5" fill="#555" textLength="31" lengthAdjust="spacingAndGlyphs">Revision</text>
<text x="1166" y="1192" font-size="7.5" fill="#555" textLength="50" lengthAdjust="spacingAndGlyphs">Effective Date</text>
<text x="1166" y="1225.5" font-size="7.5" fill="#555" textLength="32" lengthAdjust="spacingAndGlyphs">Keyword</text>
<text x="1166" y="1260" font-size="7.5" fill="#555" textLength="66" lengthAdjust="spacingAndGlyphs">Changes Required</text>
<text x="1166" y="1302.7" font-size="7.5" fill="#555" textLength="37" lengthAdjust="spacingAndGlyphs">Document</text>
<rect x="1251.5" y="1023" width="532.8" height="27.5" fill="#f4f4f4"/>
<rect x="1255.1" y="1030.7" width="52.1" height="16.7" fill="#4cae4c"/>
<text x="1281" y="1042.5" font-size="9" fill="#fff" font-weight="bold" text-anchor="middle" textLength="40" lengthAdjust="spacingAndGlyphs">Continue</text>
<rect x="1251.5" y="1050.5" width="532.8" height="18.5" fill="#ffffff"/>
<line x1="1251.5" y1="1069" x2="1784.3" y2="1069" stroke="#e3e3e3" stroke-width="1.4"/>
<text x="1254.5" y="1063.75" font-size="10" fill="#4d4d4d" font-weight="bold" textLength="19" lengthAdjust="spacingAndGlyphs">Site</text>
<text x="1448.5" y="1063.75" font-size="10" fill="#7a7a7a" textLength="88" lengthAdjust="spacingAndGlyphs">Mercury Corporation</text>
<rect x="1251.5" y="1069" width="532.8" height="19" fill="#f4f4f4"/>
<line x1="1251.5" y1="1088" x2="1784.3" y2="1088" stroke="#e3e3e3" stroke-width="1.4"/>
<text x="1254.5" y="1082.5" font-size="10" fill="#4d4d4d" font-weight="bold" textLength="76" lengthAdjust="spacingAndGlyphs">Document Level</text>
<text x="1448.5" y="1082.5" font-size="10" fill="#7a7a7a" textLength="104" lengthAdjust="spacingAndGlyphs">01. QMS Quality Manual</text>
<rect x="1251.5" y="1088" width="532.8" height="18" fill="#ffffff"/>
<line x1="1251.5" y1="1106" x2="1784.3" y2="1106" stroke="#e3e3e3" stroke-width="1.4"/>
<text x="1254.5" y="1101.0" font-size="10" fill="#4d4d4d" font-weight="bold" textLength="97" lengthAdjust="spacingAndGlyphs">Document Number</text>
<text x="1448.5" y="1101.0" font-size="10" fill="#7a7a7a" textLength="8" lengthAdjust="spacingAndGlyphs">01</text>
<rect x="1251.5" y="1106" width="532.8" height="18.90000000000009" fill="#f4f4f4"/>
<line x1="1251.5" y1="1124.9" x2="1784.3" y2="1124.9" stroke="#e3e3e3" stroke-width="1.4"/>
<text x="1254.5" y="1119.45" font-size="10" fill="#4d4d4d" font-weight="bold" textLength="84" lengthAdjust="spacingAndGlyphs">Document Name</text>
<text x="1448.5" y="1119.45" font-size="10" fill="#7a7a7a" textLength="126" lengthAdjust="spacingAndGlyphs">BSM 1.0 Corporate Summary</text>
<rect x="1251.5" y="1124.9" width="532.8" height="18.09999999999991" fill="#ffffff"/>
<line x1="1251.5" y1="1143" x2="1784.3" y2="1143" stroke="#e3e3e3" stroke-width="1.4"/>
<text x="1254.5" y="1137.95" font-size="10" fill="#4d4d4d" font-weight="bold" textLength="45" lengthAdjust="spacingAndGlyphs">Keyword</text>
<rect x="1251.5" y="1143" width="532.8" height="19" fill="#f4f4f4"/>
<line x1="1251.5" y1="1162" x2="1784.3" y2="1162" stroke="#e3e3e3" stroke-width="1.4"/>
<text x="1254.5" y="1156.5" font-size="10" fill="#4d4d4d" font-weight="bold" textLength="86" lengthAdjust="spacingAndGlyphs">Current Revision</text>
<text x="1448.5" y="1156.5" font-size="10" fill="#7a7a7a" textLength="5" lengthAdjust="spacingAndGlyphs">2</text>
<rect x="1251.5" y="1162" width="532.8" height="21.799999999999955" fill="#ffffff"/>
<line x1="1251.5" y1="1183.8" x2="1784.3" y2="1183.8" stroke="#e3e3e3" stroke-width="1.4"/>
<text x="1254.5" y="1176.9" font-size="10" fill="#4d4d4d" font-weight="bold" textLength="95" lengthAdjust="spacingAndGlyphs">Delete Document?</text>
<rect x="1251.5" y="1183.8" width="532.8" height="27.5" fill="#f4f4f4"/>
<line x1="1251.5" y1="1211.3" x2="1784.3" y2="1211.3" stroke="#e3e3e3" stroke-width="1.4"/>
<text x="1254.5" y="1201.55" font-size="10" fill="#4d4d4d" font-weight="bold" textLength="43" lengthAdjust="spacingAndGlyphs">Revision</text>
<rect x="1251.5" y="1211.3" width="532.8" height="27.700000000000045" fill="#ffffff"/>
<line x1="1251.5" y1="1239" x2="1784.3" y2="1239" stroke="#e3e3e3" stroke-width="1.4"/>
<text x="1254.5" y="1229.15" font-size="10" fill="#4d4d4d" font-weight="bold" textLength="73" lengthAdjust="spacingAndGlyphs">Effective Date</text>
<rect x="1251.5" y="1239" width="532.8" height="27.5" fill="#f4f4f4"/>
<line x1="1251.5" y1="1266.5" x2="1784.3" y2="1266.5" stroke="#e3e3e3" stroke-width="1.4"/>
<text x="1254.5" y="1256.75" font-size="10" fill="#4d4d4d" font-weight="bold" textLength="101" lengthAdjust="spacingAndGlyphs">Reason for Request</text>
<rect x="1251.5" y="1266.5" width="532.8" height="26.200000000000045" fill="#ffffff"/>
<line x1="1251.5" y1="1292.7" x2="1784.3" y2="1292.7" stroke="#e3e3e3" stroke-width="1.4"/>
<text x="1254.5" y="1283.6" font-size="10" fill="#4d4d4d" font-weight="bold" textLength="94" lengthAdjust="spacingAndGlyphs">Changes Required</text>
<rect x="1251.5" y="1292.7" width="532.8" height="27.799999999999955" fill="#f4f4f4"/>
<line x1="1251.5" y1="1320.5" x2="1784.3" y2="1320.5" stroke="#e3e3e3" stroke-width="1.4"/>
<text x="1254.5" y="1310.6" font-size="10" fill="#4d4d4d" font-weight="bold" textLength="90" lengthAdjust="spacingAndGlyphs">Attach Document</text>
<line x1="1251.5" y1="1050.5" x2="1784.3" y2="1050.5" stroke="#e0e0e0" stroke-width="1.6"/>
<line x1="1445.5" y1="1050.5" x2="1445.5" y2="1320.5" stroke="#e3e3e3" stroke-width="1.2"/>
<line x1="1784.3" y1="1023" x2="1784.3" y2="1320.5" stroke="#ececec" stroke-width="1"/>
<line x1="1251.5" y1="1050.5" x2="1251.5" y2="1320.5" stroke="#e6e6e6" stroke-width="1"/>
<rect x="1452.5" y="1167" width="9" height="9" fill="#fff" stroke="#555" stroke-width="1"/>
<rect x="1449" y="1188" width="117.6" height="19.700000000000045" fill="#fff" stroke="#cfcfcf" stroke-width="1"/>
<rect x="1449" y="1214" width="117.6" height="21.299999999999955" fill="#fff" stroke="#cfcfcf" stroke-width="1"/>
<rect x="1449" y="1242.6" width="117.6" height="18.800000000000182" fill="#fff" stroke="#cfcfcf" stroke-width="1"/>
<rect x="1449" y="1269.3" width="117.6" height="20.299999999999955" fill="#fff" stroke="#cfcfcf" stroke-width="1"/>
<text x="1452.5" y="1231" font-size="10" fill="#555" textLength="53" lengthAdjust="spacingAndGlyphs">2016/08/12</text>
<rect x="1572" y="1218.8" width="14.5" height="11.6" fill="#222"/><rect x="1573.5" y="1219.5" width="4" height="4" fill="#e33"/><rect x="1581" y="1219.5" width="4" height="4" fill="#e33"/><rect x="1574" y="1225" width="10.5" height="4" fill="#eee"/>
<rect x="1449" y="1295.4" width="113.2" height="21.2" fill="#e4e4e4" stroke="#cfcfcf" stroke-width="1"/>
<rect x="1562.2" y="1295.4" width="68.2" height="21.2" fill="#ececec" stroke="#c4c4c4" stroke-width="1"/>
<text x="1596" y="1309.8" font-size="9" fill="#222" text-anchor="middle" textLength="42" lengthAdjust="spacingAndGlyphs">Browse...</text>
<rect x="264" y="1142.8" width="862.7" height="160.20000000000005" fill="#fff" stroke="#ececec" stroke-width="1"/>
<rect x="264" y="1142.8" width="862.7" height="21" fill="url(#ph)"/>
<line x1="264" y1="1164" x2="1126.7" y2="1164" stroke="#e6e6e6" stroke-width="1"/>
<path d="M273.5 1150.5 L273.5 1157.5 M275 1151.5 L278 1154 L275 1156.5" fill="none" stroke="#aaa" stroke-width="0.9"/>
<text x="290.8" y="1156" font-size="9" fill="#333" font-weight="bold" textLength="76" lengthAdjust="spacingAndGlyphs">Approve Request</text>
<line x1="264" y1="1168.5" x2="1126.7" y2="1168.5" stroke="#eeeeee" stroke-width="1.2"/>
<rect x="276.8" y="1172.3" width="33.9" height="12.8" fill="#38a2c8"/>
<text x="293.7" y="1181.8" font-size="8" fill="#fff" font-weight="bold" text-anchor="middle" textLength="24" lengthAdjust="spacingAndGlyphs">Submit</text>
<line x1="264" y1="1187" x2="1126.7" y2="1187" stroke="#ececec" stroke-width="1.2"/>
<rect x="438.8" y="1190.2" width="513.7" height="64.6" fill="#fff" stroke="#e8e8e8" stroke-width="1"/>
<line x1="599.1" y1="1190.2" x2="599.1" y2="1254.8" stroke="#f0f0f0" stroke-width="1"/>
<line x1="438.8" y1="1205" x2="952.5" y2="1205" stroke="#f2f2f2" stroke-width="1"/>
<line x1="438.8" y1="1233.8" x2="952.5" y2="1233.8" stroke="#ececec" stroke-width="1"/>
<text x="441" y="1199.5" font-size="7.5" fill="#777" textLength="13" lengthAdjust="spacingAndGlyphs">Site</text>
<text x="602.2" y="1199.5" font-size="7.5" fill="#888" textLength="71" lengthAdjust="spacingAndGlyphs">Mercury Corporation</text>
<circle cx="447" cy="1212.8" r="3.5" fill="#fff" stroke="#444" stroke-width="0.9"/><circle cx="447" cy="1212.8" r="1.8" fill="#111"/>
<circle cx="447" cy="1225.2" r="3.5" fill="#fff" stroke="#444" stroke-width="0.9"/>
<text x="451.5" y="1214.5" font-size="7.5" fill="#777" textLength="28" lengthAdjust="spacingAndGlyphs">Approve</text>
<text x="451.5" y="1227" font-size="7.5" fill="#777" textLength="64" lengthAdjust="spacingAndGlyphs">Reject . . . Reason</text>
<text x="441" y="1247" font-size="7.5" fill="#777" textLength="60" lengthAdjust="spacingAndGlyphs">Second Password</text>
<rect x="602.2" y="1235.3" width="89" height="18.7" fill="#fff" stroke="#3a3a3a" stroke-width="1.3"/>
<text x="741.4" y="1244.2" font-size="7.5" fill="#1a73c8" textLength="81" lengthAdjust="spacingAndGlyphs">Reset Second Password</text>
<rect x="267" y="1259.8" width="857" height="28.6" fill="#fff" stroke="#e2e2e2" stroke-width="1"/>
<rect x="267.5" y="1260.3" width="856" height="13.3" fill="#f3f3f3"/>
<line x1="267" y1="1273.6" x2="1124" y2="1273.6" stroke="#e6e6e6" stroke-width="1"/>
<line x1="355.3" y1="1260" x2="355.3" y2="1288.4" stroke="#e6e6e6" stroke-width="1"/>
<line x1="458" y1="1260" x2="458" y2="1288.4" stroke="#e6e6e6" stroke-width="1"/>
<line x1="549" y1="1260" x2="549" y2="1288.4" stroke="#e6e6e6" stroke-width="1"/>
<line x1="599.1" y1="1260" x2="599.1" y2="1288.4" stroke="#e6e6e6" stroke-width="1"/>
<line x1="676.9" y1="1260" x2="676.9" y2="1288.4" stroke="#e6e6e6" stroke-width="1"/>
<line x1="769.5" y1="1260" x2="769.5" y2="1288.4" stroke="#e6e6e6" stroke-width="1"/>
<line x1="848" y1="1260" x2="848" y2="1288.4" stroke="#e6e6e6" stroke-width="1"/>
<line x1="922" y1="1260" x2="922" y2="1288.4" stroke="#e6e6e6" stroke-width="1"/>
<line x1="1024.5" y1="1260" x2="1024.5" y2="1288.4" stroke="#e6e6e6" stroke-width="1"/>
<text x="269.8" y="1271" font-size="7.5" fill="#444" font-weight="bold" textLength="63" lengthAdjust="spacingAndGlyphs">Document Level</text>
<text x="358.1" y="1271" font-size="7.5" fill="#444" font-weight="bold" textLength="73" lengthAdjust="spacingAndGlyphs">Document Number</text>
<text x="460.8" y="1271" font-size="7.5" fill="#444" font-weight="bold" textLength="67" lengthAdjust="spacingAndGlyphs">Document Name</text>
<text x="551.8" y="1271" font-size="7.5" fill="#444" font-weight="bold" textLength="36" lengthAdjust="spacingAndGlyphs">Keyword</text>
<text x="601.9" y="1271" font-size="7.5" fill="#444" font-weight="bold" textLength="55" lengthAdjust="spacingAndGlyphs">Requested By</text>
<text x="679.6999999999999" y="1271" font-size="7.5" fill="#444" font-weight="bold" textLength="66" lengthAdjust="spacingAndGlyphs">Revision Number</text>
<text x="772.3" y="1271" font-size="7.5" fill="#444" font-weight="bold" textLength="55" lengthAdjust="spacingAndGlyphs">Effective Date</text>
<text x="850.8" y="1271" font-size="7.5" fill="#444" font-weight="bold" textLength="55" lengthAdjust="spacingAndGlyphs">Request Date</text>
<text x="924.8" y="1271" font-size="7.5" fill="#444" font-weight="bold" textLength="75" lengthAdjust="spacingAndGlyphs">Reason for Change</text>
<text x="1027.3" y="1271" font-size="7.5" fill="#444" font-weight="bold" textLength="71" lengthAdjust="spacingAndGlyphs">Changes Required</text>
<text x="269.8" y="1284.5" font-size="7.5" fill="#8a8a9a" textLength="37" lengthAdjust="spacingAndGlyphs">01. Finance</text>
<text x="358.1" y="1284.5" font-size="7.5" fill="#1a73c8" textLength="41" lengthAdjust="spacingAndGlyphs">QMS/Fin/36</text>
<text x="460.8" y="1284.5" font-size="7.5" fill="#888" textLength="63" lengthAdjust="spacingAndGlyphs">Finance Procedure</text>
<text x="601.9" y="1284.5" font-size="7.5" fill="#888" textLength="38" lengthAdjust="spacingAndGlyphs">Brad smith</text>
<text x="679.6999999999999" y="1284.5" font-size="7.5" fill="#888">1</text>
<text x="772.3" y="1284.5" font-size="7.5" fill="#888" textLength="42" lengthAdjust="spacingAndGlyphs">04/08/2016</text>
<text x="850.8" y="1284.5" font-size="7.5" fill="#888" textLength="42" lengthAdjust="spacingAndGlyphs">04/08/2016</text>
<line x1="264" y1="1292" x2="1126.7" y2="1292" stroke="#eeeeee" stroke-width="1"/>
<g transform="translate(233.7 218.8)"><use href="#woman" x="0" y="-120" width="140" height="120"/></g>
<rect x="234.7" y="220.8" width="134.10000000000002" height="31.399999999999977" fill="#000" opacity="0.18" filter="none"/>
<rect x="233.7" y="218.8" width="134.10000000000002" height="31.399999999999977" fill="url(#bg)"/>
<text x="300.75" y="240.9" font-size="17" fill="#ffffff" text-anchor="middle" textLength="99.5" lengthAdjust="spacingAndGlyphs">REQUESTOR</text>
<g transform="translate(921.7 157.5)"><use href="#man" x="0" y="-120" width="130" height="120"/></g>
<rect x="922.7" y="159.5" width="133.5" height="32.30000000000001" fill="#000" opacity="0.18" filter="none"/>
<rect x="921.7" y="157.5" width="133.5" height="32.30000000000001" fill="url(#bg)"/>
<text x="988.45" y="179.8" font-size="17" fill="#ffffff" text-anchor="middle" textLength="72" lengthAdjust="spacingAndGlyphs">AUTHOR</text>
<g transform="translate(105.5 1410) scale(1.163)"><use href="#man" x="0" y="-120" width="130" height="120"/></g>
<rect x="106.2" y="1412.5" width="153.5" height="37.40000000000009" fill="#000" opacity="0.18" filter="none"/>
<rect x="105.2" y="1410.5" width="153.5" height="37.40000000000009" fill="url(#bg)"/>
<text x="181.95" y="1436.6" font-size="17" fill="#ffffff" font-weight="bold" text-anchor="middle" textLength="92" lengthAdjust="spacingAndGlyphs">APPROVER</text>
<g transform="translate(1704.8 1410.5) scale(1.2 1.159)"><use href="#woman" x="0" y="-120" width="140" height="120"/></g>
<rect x="1706.4" y="1412.9" width="161.79999999999995" height="37.299999999999955" fill="#000" opacity="0.18" filter="none"/>
<rect x="1705.4" y="1410.9" width="161.79999999999995" height="37.299999999999955" fill="url(#bg)"/>
<text x="1786.3000000000002" y="1436.6" font-size="17" fill="#ffffff" font-weight="bold" text-anchor="middle" textLength="102" lengthAdjust="spacingAndGlyphs">REQUESTOR</text>
</svg></body></html>
